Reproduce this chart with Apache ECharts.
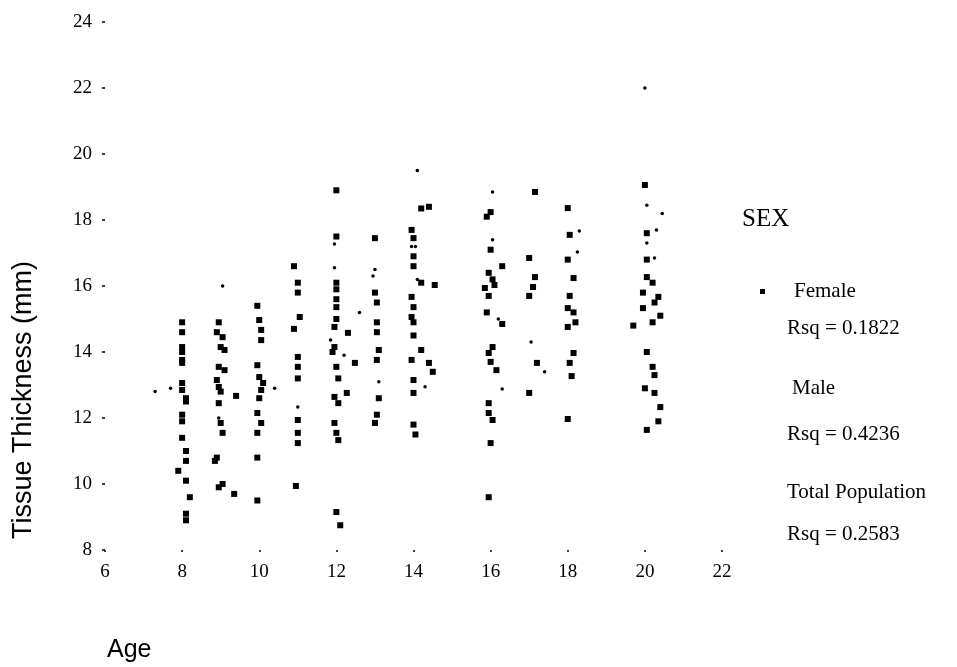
<!DOCTYPE html>
<html>
<head>
<meta charset="utf-8">
<script src="https://cdn.jsdelivr.net/npm/echarts@6/dist/echarts.min.js"></script>
<style>html,body{margin:0;padding:0;background:#fff}#c{width:957px;height:667px}</style>
</head>
<body>
<div id="c"></div>
<script>
// Age (years), Tissue Thickness (mm)
var female = [
 [8,14.9],[8,14.6],[8,14.15],[8,14.0],[8,13.76],[8,13.67],[8,13.06],[8,12.85],[8.1,12.6],[8.1,12.5],[8,12.1],[8,11.9],[8,11.4],[8.1,11.0],[8.1,10.7],[7.9,10.4],[8.1,10.1],[8.2,9.6],[8.1,9.1],[8.1,8.9],
 [8.95,14.9],[8.9,14.6],[9.05,14.45],[9,14.15],[9.1,14.06],[8.95,13.55],[9.1,13.45],[8.9,13.15],[8.95,12.94],[9,12.8],[9.4,12.67],[8.95,12.45],[9,11.85],[9.05,11.55],[8.9,10.8],[8.85,10.7],[9.05,10.0],[8.95,9.9],[9.35,9.7],
 [9.95,15.4],[10,14.97],[10.05,14.67],[10.05,14.36],[9.95,13.6],[10,13.24],[10.1,13.06],[10.05,12.85],[10,12.6],[9.95,12.15],[10.05,11.85],[9.95,11.55],[9.95,10.8],[9.95,9.5],
 [10.9,16.6],[11,16.1],[11,15.8],[11.05,15.06],[10.9,14.7],[11,13.85],[11,13.55],[11,13.2],[11,11.94],[11,11.55],[11,11.24],[10.95,9.94],
 [12,18.9],[12,17.5],[12,16.1],[12,15.9],[12,15.6],[12,15.36],[12,15.0],[12.3,14.58],[11.95,14.76],[11.95,14.15],[11.9,14.0],[12.48,13.67],[12,13.55],[12.05,13.2],[12.27,12.76],[11.95,12.64],[12.05,12.45],[11.95,11.85],[12,11.55],[12.05,11.33],[12,9.15],[12.1,8.75],
 [13,17.45],[13,15.8],[13.05,15.5],[13.05,14.9],[13.05,14.6],[13.1,14.06],[13.05,13.76],[13.1,12.6],[13.05,12.1],[13,11.85],
 [14.2,18.35],[14.4,18.4],[13.95,17.7],[14,17.45],[14,16.9],[14,16.6],[14.2,16.1],[14.55,16.03],[13.95,15.67],[14,15.36],[13.95,15.06],[14,14.9],[14,14.5],[14.2,14.06],[13.95,13.76],[14.4,13.67],[14.5,13.4],[14,13.15],[14,12.76],[14,11.8],[14.05,11.5],
 [16,18.24],[15.9,18.1],[16,17.1],[16.3,16.6],[15.95,16.4],[16.05,16.2],[16.1,16.03],[15.85,15.94],[15.95,15.7],[15.9,15.2],[16.3,14.85],[16.05,14.15],[15.95,13.97],[16,13.7],[16.15,13.45],[15.95,12.45],[15.95,12.15],[16.05,11.94],[16,11.24],[15.95,9.6],
 [17.15,18.85],[17,16.85],[17.15,16.27],[17.1,15.97],[17,15.7],[17.2,13.67],[17,12.76],
 [18,18.36],[18.05,17.55],[18,16.8],[18.15,16.24],[18.05,15.7],[18,15.33],[18.15,15.2],[18.2,14.9],[18,14.76],[18.15,13.97],[18.05,13.67],[18.1,13.27],[18,11.97],
 [20,19.06],[20.05,17.6],[20.05,16.8],[20.05,16.27],[20.2,16.1],[19.95,15.8],[20.35,15.67],[20.25,15.5],[19.95,15.33],[20.4,15.1],[19.7,14.8],[20.2,14.9],[20.05,14.0],[20.2,13.55],[20.25,13.3],[20,12.9],[20.25,12.76],[20.4,12.33],[20.35,11.9],[20.05,11.64]
];
var male = [
 [7.3,12.8],[7.7,12.9],[9.05,16.0],[8.95,12.0],[10.4,12.9],[11,12.33],[11.95,17.27],[11.95,16.55],[11.85,14.36],[12.2,13.9],
 [13,16.5],[12.95,16.3],[12.6,15.2],[13.1,13.1],[14.1,19.5],[13.95,17.2],[14.05,17.2],[14.1,16.2],[14.3,12.95],
 [16.05,18.85],[16.05,17.4],[16.2,15.0],[16.3,12.88],[17.05,14.3],[17.4,13.4],[18.3,17.67],[18.25,17.03],
 [20,22.0],[20.05,18.45],[20.45,18.2],[20.3,17.7],[20.05,17.3],[20.25,16.85]
];
var xTicks = {min: 6, max: 22, interval: 2};
var yTicks = {min: 8, max: 24, interval: 2};
var legendTitle = 'SEX';
var legendLines = ['Female', 'Rsq = 0.1822', 'Male', 'Rsq = 0.4236', 'Total Population', 'Rsq = 0.2583'];
var xTitle = 'Age';
var yTitle = 'Tissue Thickness (mm)';

var serif = '"Liberation Serif", "DejaVu Serif", serif';
var sans = '"Liberation Sans", Arial, sans-serif';
var chart = echarts.init(document.getElementById('c'), null, {renderer: 'canvas'});
var legendY = [null, 328, 388, 434, 492, 534];
var legendX = [null, 787, 792, 787, 787, 787];
var graphics = [
  {type: 'text', left: 742, top: 207, style: {text: legendTitle, font: '25px ' + serif, fill: '#000'}},
  {type: 'text', x: 24, y: 400, rotation: Math.PI / 2, style: {text: yTitle, font: '27px ' + sans, fill: '#000', textAlign: 'center', textVerticalAlign: 'middle'}},
  {type: 'text', left: 107, top: 638, style: {text: xTitle, font: '25px ' + sans, fill: '#000'}}
];
for (var i = 1; i < legendLines.length; i++) {
  graphics.push({type: 'text', x: legendX[i], y: legendY[i], style: {text: legendLines[i], font: '21px ' + serif, fill: '#000', textVerticalAlign: 'middle'}});
}
chart.setOption({
  animation: false,
  backgroundColor: '#fff',
  grid: {left: 105, right: 235, top: 22, bottom: 117, containLabel: false},
  xAxis: {
    type: 'value', min: xTicks.min, max: xTicks.max, interval: xTicks.interval,
    axisLine: {show: false}, splitLine: {show: false},
    axisTick: {show: true, length: 2, lineStyle: {color: '#000', width: 1.5}},
    axisLabel: {margin: 13, color: '#000', fontFamily: serif, fontSize: 19}
  },
  yAxis: {
    type: 'value', min: yTicks.min, max: yTicks.max, interval: yTicks.interval,
    axisLine: {show: false}, splitLine: {show: false},
    axisTick: {show: true, length: 3, lineStyle: {color: '#000', width: 1.5}},
    axisLabel: {margin: 13, color: '#000', fontFamily: serif, fontSize: 19}
  },
  legend: {
    data: ['Female'], left: 755, top: 276, orient: 'vertical',
    icon: 'rect', itemWidth: 5, itemHeight: 5,
    textStyle: {fontFamily: serif, fontSize: 21, color: '#000', padding: [0, 0, 0, 24]}
  },
  graphic: graphics,
  series: [
    {name: 'Female', type: 'scatter', data: female, symbol: 'rect', symbolSize: 6, itemStyle: {color: '#000', opacity: 1}},
    {name: 'Male', type: 'scatter', data: male, symbol: 'circle', symbolSize: 3.5, itemStyle: {color: '#000', opacity: 1}}
  ]
});
</script>
</body>
</html>
